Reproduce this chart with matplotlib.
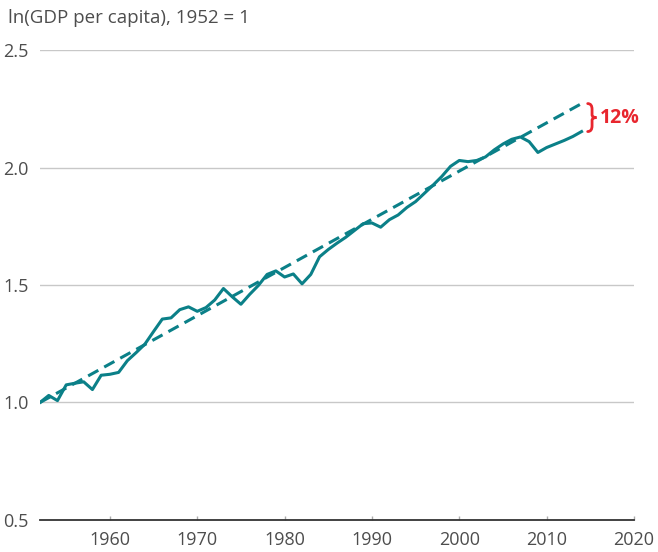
import numpy as np
import matplotlib.pyplot as plt
from matplotlib.path import Path
from matplotlib.patches import PathPatch

plt.rcParams['font.family'] = ['Open Sans', 'DejaVu Sans']

# GDP per capita, log, 1952 = 1
years = np.arange(1952, 2015)
gdp = [1.000, 1.030, 1.008, 1.075, 1.082, 1.088, 1.055, 1.116, 1.120, 1.128,
       1.178, 1.212, 1.248, 1.302, 1.355, 1.360, 1.395, 1.407, 1.388, 1.404,
       1.436, 1.485, 1.450, 1.418, 1.460, 1.498, 1.545, 1.560, 1.534, 1.547,
       1.505, 1.545, 1.620, 1.651, 1.678, 1.703, 1.732, 1.761, 1.764, 1.746,
       1.778, 1.798, 1.830, 1.855, 1.890, 1.925, 1.962, 2.005, 2.030, 2.025,
       2.030, 2.045, 2.075, 2.100, 2.120, 2.130, 2.110, 2.064, 2.085, 2.100,
       2.115, 2.132, 2.153]

trend_years = [1952, 2014]
trend_vals = [1.0, 2.272]

teal = '#0b8088'
red = '#e8262e'
txt = '#4d4d4d'

fig = plt.figure(figsize=(6.58, 5.52), dpi=100)
ax = fig.add_axes([0.0608, 0.058, 0.9027, 0.8514])

for y in [1.0, 1.5, 2.0, 2.5]:
    ax.axhline(y, color='#c8c8c8', lw=1.0, zorder=0)

ax.plot(trend_years, trend_vals, color=teal, lw=2.2, ls=(0, (3.8, 2.2)))
ax.plot(years, gdp, color=teal, lw=2.2)

ax.set_xlim(1952, 2020)
ax.set_ylim(0.5, 2.5)
ax.set_xticks(range(1960, 2021, 10))
ax.set_yticks([0.5, 1.0, 1.5, 2.0, 2.5])
ax.set_yticklabels(['0.5', '1.0', '1.5', '2.0', '2.5'])

for s in ['top', 'right', 'left']:
    ax.spines[s].set_visible(False)
ax.spines['bottom'].set_color('#333333')
ax.spines['bottom'].set_linewidth(1.3)

ax.tick_params(axis='y', length=0, pad=8, labelsize=13, labelcolor=txt)
ax.tick_params(axis='x', length=3, width=1, color='#aaaaaa', direction='in',
               pad=8, labelsize=13, labelcolor=txt)

fig.text(0.012, 0.967, 'ln(GDP per capita), 1952 = 1', fontsize=13.5,
         color=txt, ha='left', va='center')

# brace marking the gap between trend and actual in 2014
top, bot = trend_vals[-1], gdp[-1]
mid = (top + bot) / 2
x0, w = 2014.7, 1.0
xm = x0 + w * 0.5
c = 0.012
verts = [(x0, top),
         (xm, top), (xm, top - 2 * c),
         (xm, mid + c),
         (xm, mid), (x0 + w, mid),
         (xm, mid), (xm, mid - c),
         (xm, bot + 2 * c),
         (xm, bot), (x0, bot)]
codes = [Path.MOVETO,
         Path.CURVE3, Path.CURVE3,
         Path.LINETO,
         Path.CURVE3, Path.CURVE3,
         Path.CURVE3, Path.CURVE3,
         Path.LINETO,
         Path.CURVE3, Path.CURVE3]
ax.add_patch(PathPatch(Path(verts, codes), fill=False, edgecolor=red, lw=2.0,
                       clip_on=False, capstyle='round'))
ax.text(2016.1, mid, '12%', color=red, fontsize=14, fontweight='bold',
        ha='left', va='center')

plt.savefig('out.png', dpi=100)
